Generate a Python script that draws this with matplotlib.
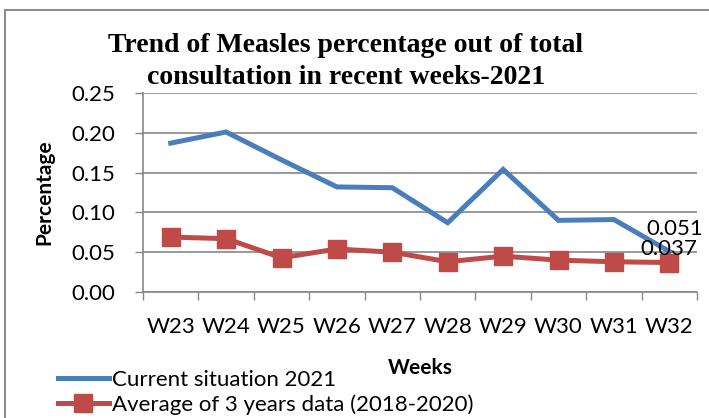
import matplotlib
matplotlib.use('Agg')
import matplotlib.pyplot as plt
from matplotlib.patches import Rectangle

# ── Data ──────────────────────────────────────────────────────────────────────
weeks = ['W23', 'W24', 'W25', 'W26', 'W27', 'W28', 'W29', 'W30', 'W31', 'W32']
current_2021 = [0.187, 0.201, 0.166, 0.132, 0.131, 0.087, 0.154, 0.090, 0.091, 0.051]
avg_3yr = [0.069, 0.067, 0.043, 0.054, 0.050, 0.038, 0.045, 0.040, 0.038, 0.037]
y_ticks = [0.00, 0.05, 0.10, 0.15, 0.20, 0.25]

blue = '#4A7EBB'
red = '#BE4B48'
grid_c = '#878787'

plt.rcParams['font.family'] = ['Lato', 'DejaVu Sans']

fig = plt.figure(figsize=(7.09, 4.18), dpi=100)
ax = fig.add_axes([143 / 709, 126 / 418, 554 / 709, 199 / 418])

x = list(range(len(weeks)))
ax.plot(x, current_2021, color=blue, lw=3.6, solid_joinstyle='miter',
        label='Current situation 2021')
ax.plot(x, avg_3yr, color=red, lw=3.6, marker='s', markersize=12.5,
        label='Average of 3 years data (2018-2020)')

# data labels on last week
ax.annotate(f'{current_2021[-1]:.3f}', (x[-1], current_2021[-1]),
            xytext=(4, 16), textcoords='offset points',
            ha='center', va='center', fontsize=16)
ax.annotate(f'{avg_3yr[-1]:.3f}', (x[-1], avg_3yr[-1]),
            xytext=(0, 10), textcoords='offset points',
            ha='center', va='center', fontsize=16)

ax.set_xlim(-0.5, len(weeks) - 0.5)
ax.set_ylim(0, 0.25)
ax.set_yticks(y_ticks)
ax.set_yticklabels([f'{v:.2f}' for v in y_ticks], fontsize=16)
ax.set_xticks(x)
ax.set_xticklabels(weeks, fontsize=16)
ax.set_xticks([i - 0.5 for i in range(len(weeks) + 1)], minor=True)
ax.tick_params(axis='x', which='major', length=0, pad=18)
ax.tick_params(axis='x', which='minor', length=6, color=grid_c, width=1)
ax.tick_params(axis='y', length=6, color=grid_c, width=1, pad=14)

ax.yaxis.grid(True, color=grid_c, lw=1.2)
ax.set_axisbelow(True)
for s in ['top', 'right']:
    ax.spines[s].set_visible(False)
for s in ['left', 'bottom']:
    ax.spines[s].set_color(grid_c)
    ax.spines[s].set_linewidth(1.2)

ax.set_ylabel('Percentage', fontsize=15, fontweight='bold', labelpad=12)

fig.text(420 / 709, 1 - 368 / 418, 'Weeks', fontsize=15, fontweight='bold',
         ha='center', va='center')

# title
fig.text(346 / 709, 1 - 45 / 418, 'Trend of Measles percentage out of total',
         fontsize=20, fontweight='bold', family='Liberation Serif',
         ha='center', va='center')
fig.text(346 / 709, 1 - 77 / 418, 'consultation in recent weeks-2021',
         fontsize=20, fontweight='bold', family='Liberation Serif',
         ha='center', va='center')

fig.legend(loc='lower left', bbox_to_anchor=(42 / 709, -0.03), frameon=False,
           fontsize=16, handlelength=2.3, handletextpad=0.15,
           labelspacing=0.22, borderpad=0.2)

# outer chart border
fig.patches.append(Rectangle((5 / 709, -0.1), 1.2, 1 - 10 / 418 + 0.1,
                             transform=fig.transFigure, fill=False,
                             edgecolor='#8C8C8C', lw=1.5))

fig.savefig('out.png', dpi=100)
